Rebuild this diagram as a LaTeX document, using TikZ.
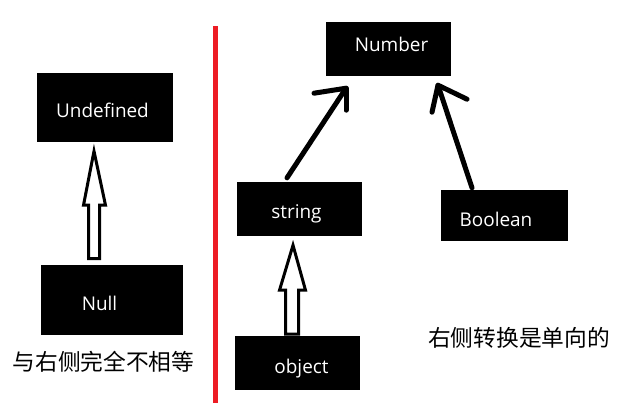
\documentclass[tikz,border=0pt]{standalone}
\usepackage{fontspec}
\setmainfont{Open Sans}
\newfontfamily\cjk{Noto Sans CJK SC}
\usetikzlibrary{calc}
\definecolor{pred}{HTML}{ED1C24}
\begin{document}
\begin{tikzpicture}[x=1bp,y=-1bp,
  box/.style={fill=black, draw=none, inner sep=0pt},
  lbl/.style={text=white, font=\fontsize{19}{21}\selectfont, inner sep=0pt, anchor=base},
  note/.style={text=black, font=\cjk\fontsize{22.8}{24}\selectfont, inner sep=0pt},
  thin/.style={draw=black, line width=5bp, line cap=round, line join=round},
  hollow/.style={draw=black, fill=white, line width=3bp, line join=miter},
  divider/.style={draw=pred, line width=5bp}]
\fill[white] (0,0) rectangle (624,413);
\useasboundingbox (0,0) rectangle (624,413);
% boxes
\node[box, minimum width=136bp, minimum height=69bp] (undef) at (105,107.5) {};
\node[box, minimum width=142bp, minimum height=70bp] (null) at (112,300) {};
\node[box, minimum width=125bp, minimum height=54bp] (number) at (388.5,49) {};
\node[box, minimum width=125bp, minimum height=54bp] (string) at (299.5,209) {};
\node[box, minimum width=127bp, minimum height=51bp] (boolean) at (504.5,215.5) {};
\node[box, minimum width=125bp, minimum height=54bp] (object) at (297.5,363) {};
% labels
\node[lbl] (undeft) at (102.5,117) {Undefined};
\node[lbl] (nullt) at (99.5,310) {Null};
\node[lbl] (numbert) at (391.5,51) {Number};
\node[lbl] (stringt) at (296.5,218) {string};
\node[lbl] (booleant) at (496,226) {Boolean};
\node[lbl] (objectt) at (301.5,373) {object};
% notes
\node[note] (leftnote) at (103.5,361.5) {与右侧完全不相等};
\node[note] (rightnote) at (519,337.5) {右侧转换是单向的};
% divider
\coordinate (dtop) at (215.5,26);
\coordinate (dbot) at (215.5,403);
\draw[divider] (dtop) -- (dbot);
% thin arrows
\coordinate (t1) at ($(number.south)+(-42.5,12)$);
\draw[thin] ($(string.north)+(-12.5,-4)$) -- (t1) -- +(-32,5);
\draw[thin] (t1) -- +(0,22);
\coordinate (t2) at ($(number.south)+(49.5,9)$);
\draw[thin] ($(boolean.north)+(-32.5,-2)$) -- (t2) -- +(-6,27);
\draw[thin] (t2) -- +(29,14);
% hollow arrows
\coordinate (h1) at ($(undef.south)+(-11,9)$);
\draw[hollow] (h1) -- +(11.5,54) -- +(5.5,54) -- +(5.5,107.5) -- +(-5.5,107.5) -- +(-5.5,54) -- +(-10.5,54) -- cycle;
\coordinate (h2) at ($(string.south)+(-6.5,9)$);
\draw[hollow] (h2) -- +(12.5,45) -- +(5.5,45) -- +(5.5,89) -- +(-7.5,89) -- +(-7.5,45) -- +(-13.5,45) -- cycle;
\end{tikzpicture}
\end{document}
